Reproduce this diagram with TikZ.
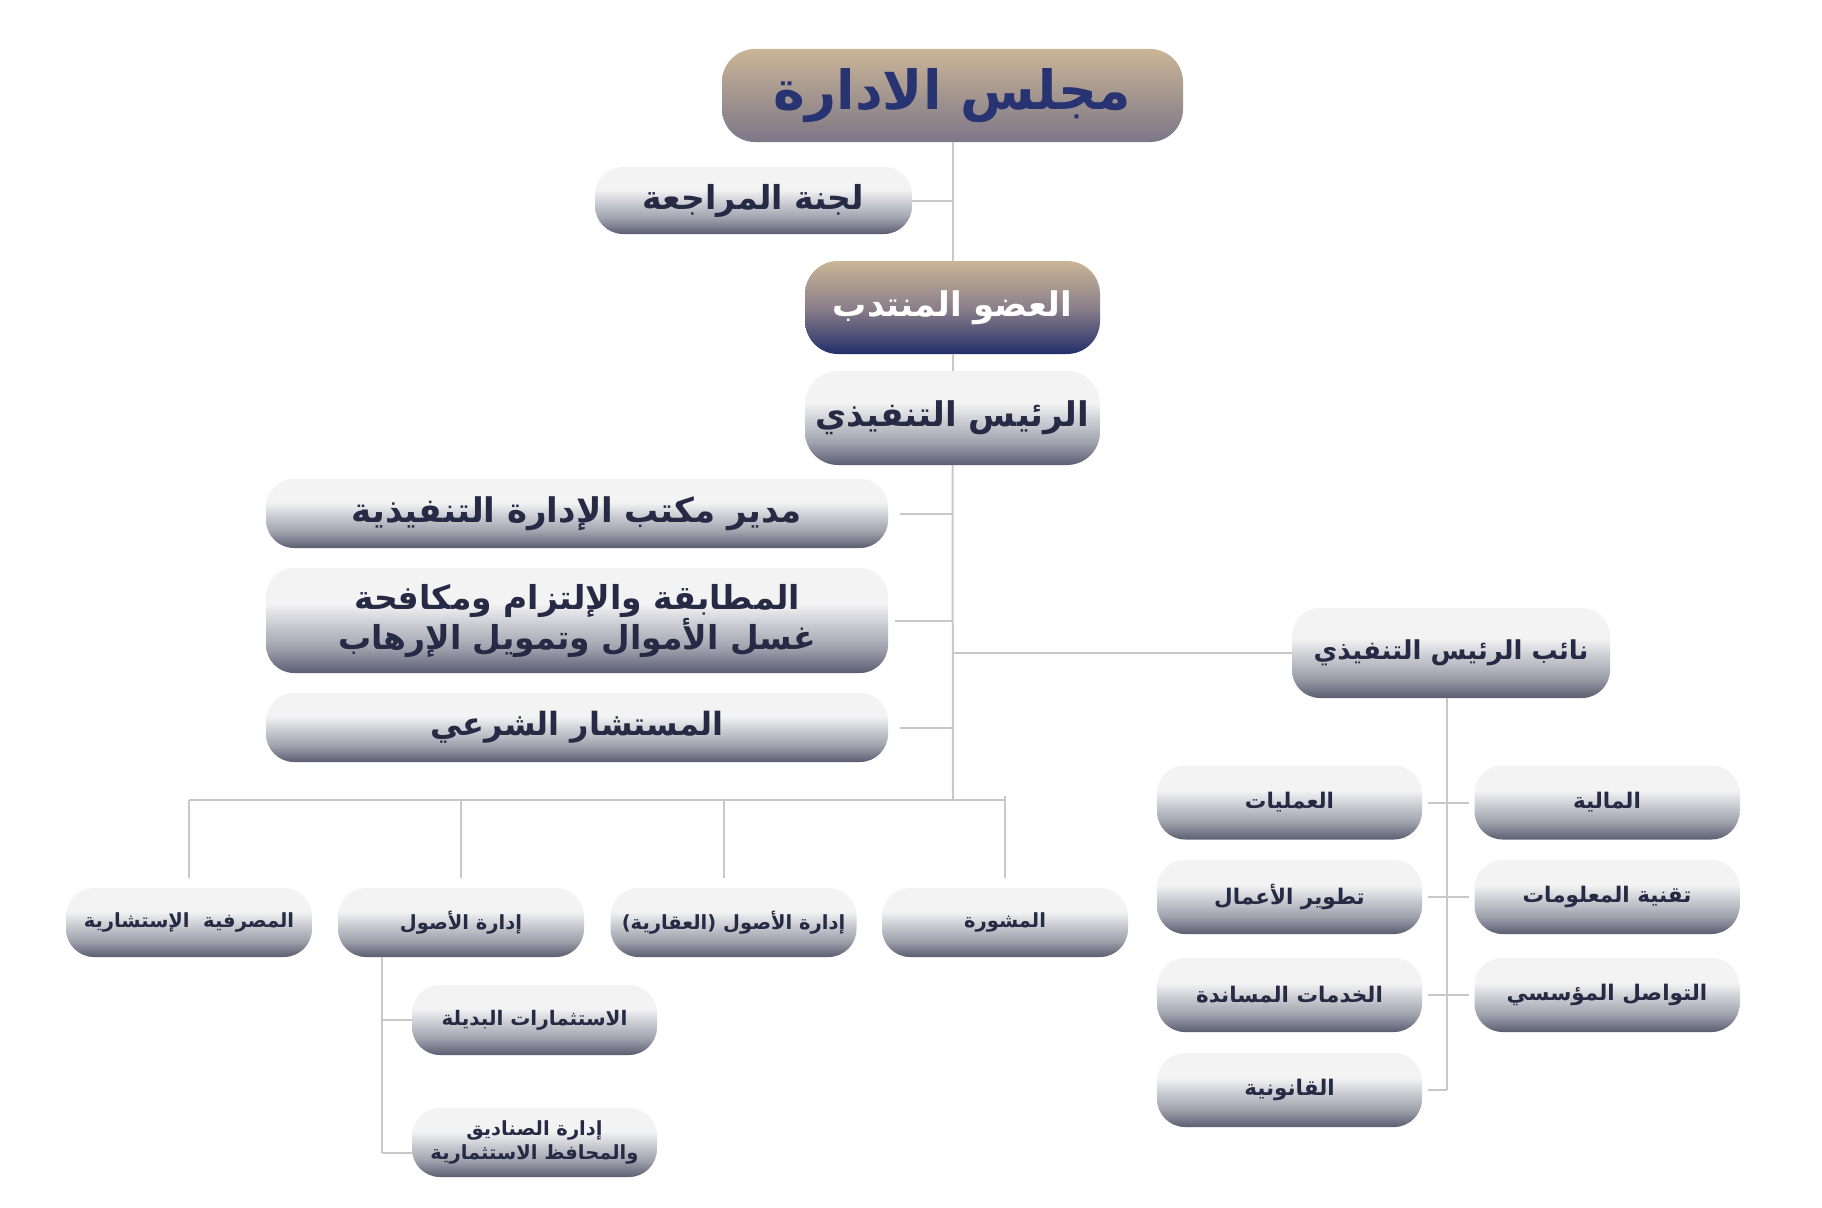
\documentclass[tikz,border=0pt]{standalone}
\usepackage{fontspec}
\newfontfamily\arabicfont[Script=Arabic]{DejaVu Sans}
\TeXXeTstate=1
\definecolor{lg1}{HTML}{F3F3F4}
\definecolor{lg2}{HTML}{D2D3D8}
\definecolor{lg3}{HTML}{A0A2AE}
\definecolor{lg4}{HTML}{5B5E71}
\definecolor{tanc}{HTML}{CAB597}
\definecolor{tanb}{HTML}{7D7787}
\definecolor{navyc}{HTML}{232E6A}
\definecolor{midc}{HTML}{8B808A}
\definecolor{txtc}{HTML}{272A44}
\definecolor{boardtxt}{HTML}{283371}
\definecolor{linec}{HTML}{C8C8C8}
\pgfdeclareverticalshading{lightgrad}{100bp}{color(0bp)=(lg4); color(25bp)=(lg4); color(37bp)=(lg3); color(50bp)=(lg2); color(58bp)=(lg1); color(75bp)=(lg1); color(100bp)=(lg1)}
\pgfdeclareverticalshading{boardgrad}{100bp}{color(0bp)=(tanb); color(25bp)=(tanb); color(75bp)=(tanc); color(100bp)=(tanc)}
\pgfdeclareverticalshading{muntgrad}{100bp}{color(0bp)=(navyc); color(25bp)=(navyc); color(50bp)=(midc); color(75bp)=(tanc); color(100bp)=(tanc)}
\begin{document}
\begin{tikzpicture}[x=1pt,y=-1pt,
  box/.style={rectangle, rounded corners=28pt, inner sep=0pt, outer sep=0pt, align=center, font=\arabicfont\bfseries, text=txtc},
  lbox/.style={box, shading=lightgrad},
  bigbox/.style={box, rounded corners=33pt},
  conn/.style={draw=linec, line width=2pt}]
\fill[white] (0,0) rectangle (1822,1207);
\useasboundingbox (0,0) rectangle (1822,1207);
% top chain
\node[bigbox, shading=boardgrad, text=boardtxt, minimum width=461pt, minimum height=93pt, font=\arabicfont\bfseries\fontsize{54}{58}\selectfont] (board) at (952.5,95.5) {\beginR مجلس الادارة\endR};
\node[lbox, minimum width=317pt, minimum height=67pt, font=\arabicfont\bfseries\fontsize{33}{37}\selectfont] (audit) at (753.5,200.5) {\beginR لجنة المراجعة\endR};
\node[bigbox, shading=muntgrad, text=white, minimum width=295pt, minimum height=93pt, font=\arabicfont\bfseries\fontsize{34}{38}\selectfont] (munt) at (952.5,307.5) {\beginR العضو المنتدب\endR};
\node[lbox, bigbox, minimum width=295pt, minimum height=94pt, font=\arabicfont\bfseries\fontsize{34}{38}\selectfont] (ceo) at (952.5,418) {\beginR الرئيس التنفيذي\endR};
% left wide boxes
\node[lbox, minimum width=622pt, minimum height=69pt, font=\arabicfont\bfseries\fontsize{34}{38}\selectfont] (mudir) at (577,513.5) {\beginR مدير مكتب الإدارة التنفيذية\endR};
\node[lbox, minimum width=622pt, minimum height=105pt, font=\arabicfont\bfseries\fontsize{33}{40}\selectfont] (comp) at (577,620.5) {\beginR المطابقة والإلتزام ومكافحة\endR\\\beginR غسل الأموال وتمويل الإرهاب\endR};
\node[lbox, minimum width=622pt, minimum height=69pt, font=\arabicfont\bfseries\fontsize{32}{36}\selectfont] (sharia) at (577,727.5) {\beginR المستشار الشرعي\endR};
% deputy
\node[lbox, minimum width=318pt, minimum height=90pt, font=\arabicfont\bfseries\fontsize{26}{30}\selectfont] (deputy) at (1451,653) {\beginR نائب الرئيس التنفيذي\endR};
% right grid
\tikzset{small/.style={lbox, minimum width=265pt, minimum height=74pt, font=\arabicfont\bfseries\fontsize{21.5}{25}\selectfont}}
\node[small] (ops) at (1289.5,802.5) {\beginR العمليات\endR};
\node[small] (bizdev) at (1289.5,897) {\beginR تطوير الأعمال\endR};
\node[small] (support) at (1289.5,995) {\beginR الخدمات المساندة\endR};
\node[small] (legal) at (1289.5,1090) {\beginR القانونية\endR};
\node[small] (fin) at (1607,802.5) {\beginR المالية\endR};
\node[small] (it) at (1607,897) {\beginR تقنية المعلومات\endR};
\node[small] (comm) at (1607,995) {\beginR التواصل المؤسسي\endR};
% bottom row
\tikzset{bsmall/.style={lbox, minimum width=246pt, minimum height=69pt, font=\arabicfont\bfseries\fontsize{19.5}{23}\selectfont}}
\node[bsmall] (bank) at (189,922.5) {\beginR المصرفية\ \ الإستشارية\endR};
\node[bsmall] (assets) at (461,922.5) {\beginR إدارة الأصول\endR};
\node[bsmall] (real) at (733.5,922.5) {\beginR إدارة الأصول (العقارية)\endR};
\node[bsmall] (advice) at (1005,922.5) {\beginR المشورة\endR};
\node[bsmall, minimum width=245pt, minimum height=70pt, font=\arabicfont\bfseries\fontsize{20}{24}\selectfont] (alt) at (534.5,1020) {\beginR الاستثمارات البديلة\endR};
\node[bsmall, minimum width=245pt, minimum height=69pt, font=\arabicfont\bfseries\fontsize{19.5}{24}\selectfont] (fund) at (534.5,1142.5) {\beginR إدارة الصناديق\endR\\\beginR والمحافظ الاستثمارية\endR};
% connectors
\coordinate (bar) at (953,800);
\coordinate (subx) at (382,0);
\coordinate (rx) at (1447,0);
\coordinate (b2) at (382,1153);
\draw[conn] (board.south) -- (munt.north);
\draw[conn] (munt.south) -- (ceo.north);
\draw[conn] (ceo.south) -- (bar);
\draw[conn] (audit.east) -- (audit.east -| board.south);
\draw[conn] ([xshift=12pt]mudir.east) -- (mudir.east -| ceo.south);
\draw[conn] ([xshift=7pt]comp.east) -- (comp.east -| ceo.south);
\draw[conn] ([xshift=12pt]sharia.east) -- (sharia.east -| ceo.south);
\draw[conn] (deputy.west -| ceo.south) -- (deputy.west);
\draw[conn] (bank.north |- bar) -- (advice.north |- bar);
\draw[conn] (bank.north |- bar) -- ([yshift=10pt]bank.north);
\draw[conn] (assets.north |- bar) -- ([yshift=10pt]assets.north);
\draw[conn] ([xshift=-10pt]real.north |- bar) -- ([xshift=-10pt,yshift=10pt]real.north);
\draw[conn] ([yshift=4pt]advice.north |- bar) -- ([yshift=10pt]advice.north);
\draw[conn] (subx |- assets.south) -- (b2);
\draw[conn] (subx |- alt.west) -- (alt.west);
\draw[conn] (b2) -- (b2 -| fund.west);
\draw[conn] (rx |- deputy.south) -- (rx |- legal.east);
\draw[conn] ([xshift=6pt]ops.east) -- ([xshift=-6pt]fin.west);
\draw[conn] ([xshift=6pt]bizdev.east) -- ([xshift=-6pt]it.west);
\draw[conn] ([xshift=6pt]support.east) -- ([xshift=-6pt]comm.west);
\draw[conn] ([xshift=6pt]legal.east) -- (rx |- legal.east);
\end{tikzpicture}
\end{document}
